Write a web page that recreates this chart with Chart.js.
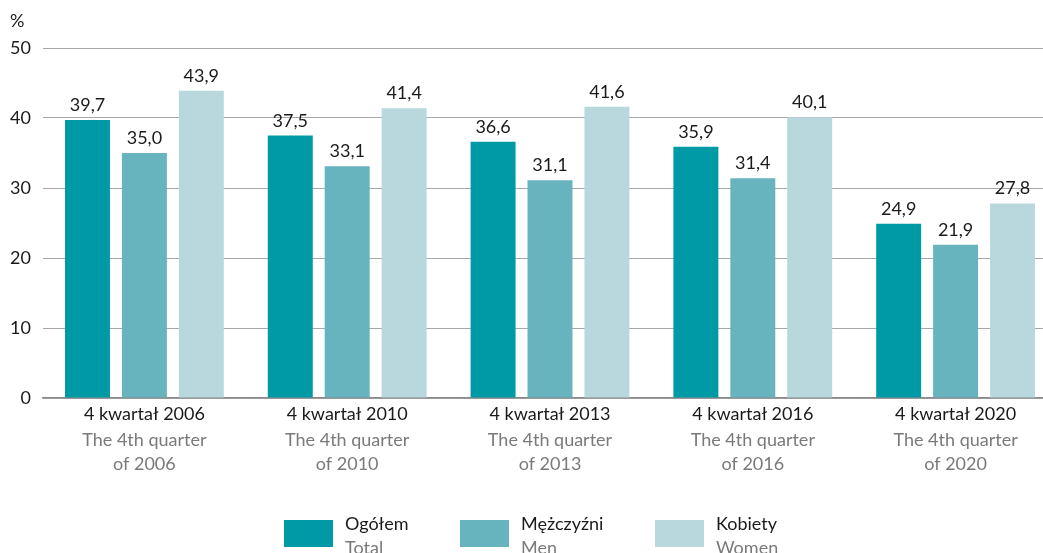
<!DOCTYPE html>
<html>
<head>
<meta charset="utf-8">
<script src="https://cdn.jsdelivr.net/npm/chart.js@4/dist/chart.umd.min.js"></script>
<style>
  html, body { margin: 0; padding: 0; background: #fff; overflow: hidden; }
  /* the reference plot runs past the right edge of the picture */
  #wrap { width: 1057px; height: 553px; position: relative; }
</style>
</head>
<body>
<div id="wrap"><canvas id="chart"></canvas></div>
<script>
'use strict';

// ── Data ──────────────────────────────────────────────────────────────────────

const CATEGORIES_PL = ['4 kwartał 2006', '4 kwartał 2010', '4 kwartał 2013', '4 kwartał 2016', '4 kwartał 2020'];
const CATEGORIES_EN = [
  ['The 4th quarter', 'of 2006'],
  ['The 4th quarter', 'of 2010'],
  ['The 4th quarter', 'of 2013'],
  ['The 4th quarter', 'of 2016'],
  ['The 4th quarter', 'of 2020'],
];

const TOTAL = [39.7, 37.5, 36.6, 35.9, 24.9];
const MEN = [35.0, 33.1, 31.1, 31.4, 21.9];
const WOMEN = [43.9, 41.4, 41.6, 40.1, 27.8];

const SERIES_PL = ['Ogółem', 'Mężczyźni', 'Kobiety'];
const SERIES_EN = ['Total', 'Men', 'Women'];
const COLORS = ['#009aa6', '#67b4bf', '#b9d8de'];

const FONT = 'Lato, "Open Sans", sans-serif';

// ── Plugins ───────────────────────────────────────────────────────────────────

const fmt = v => v.toFixed(1).replace('.', ',');

const decorations = {
  id: 'decorations',
  afterDatasetsDraw(chart) {
    const { ctx } = chart;
    ctx.save();
    ctx.font = '18px ' + FONT;
    ctx.fillStyle = '#1a1a1a';
    ctx.textAlign = 'center';
    ctx.textBaseline = 'alphabetic';
    chart.data.datasets.forEach((ds, i) => {
      chart.getDatasetMeta(i).data.forEach((bar, j) => {
        ctx.fillText(fmt(ds.data[j]), bar.x, bar.y - 9);
      });
    });
    ctx.restore();
  },
  afterDraw(chart) {
    const { ctx, scales: { x } } = chart;
    ctx.save();
    ctx.font = '18px ' + FONT;
    ctx.textAlign = 'center';
    ctx.textBaseline = 'middle';

    // category labels, Polish line dark, English lines grey
    CATEGORIES_PL.forEach((lbl, i) => {
      const cx = x.getPixelForValue(i);
      ctx.fillStyle = '#1a1a1a';
      ctx.fillText(lbl, cx, 414);
      ctx.fillStyle = '#7a7a7a';
      CATEGORIES_EN[i].forEach((line, k) => ctx.fillText(line, cx, 440 + k * 24));
    });

    // unit
    ctx.textAlign = 'left';
    ctx.fillStyle = '#1a1a1a';
    ctx.fillText('%', 10, 21);

    // legend
    const boxX = [284, 460, 655];
    SERIES_PL.forEach((name, i) => {
      ctx.fillStyle = COLORS[i];
      ctx.fillRect(boxX[i], 520, 49, 27);
      ctx.fillStyle = '#1a1a1a';
      ctx.fillText(name, boxX[i] + 61, 524);
      ctx.fillStyle = '#7a7a7a';
      ctx.fillText(SERIES_EN[i], boxX[i] + 61, 548);
    });
    ctx.restore();
  },
};

// ── Chart ─────────────────────────────────────────────────────────────────────

new Chart(document.getElementById('chart'), {
  type: 'bar',
  data: {
    labels: CATEGORIES_PL,
    datasets: [TOTAL, MEN, WOMEN].map((values, i) => ({
      label: SERIES_PL[i],
      data: values,
      backgroundColor: COLORS[i],
      categoryPercentage: 0.842,
      barPercentage: 0.79,
    })),
  },
  options: {
    responsive: true,
    maintainAspectRatio: false,
    animation: false,
    layout: { padding: { top: 48, right: 0, left: 0, bottom: 0 } },
    plugins: { legend: { display: false }, tooltip: { enabled: false } },
    scales: {
      x: {
        ticks: { display: false },
        grid: { display: false },
        border: { color: '#8a8a8a', width: 1.5 },
        afterFit: s => { s.height = 155; },
      },
      y: {
        min: 0,
        max: 50,
        ticks: { stepSize: 10, color: '#1a1a1a', font: { size: 18, family: FONT }, padding: 12 },
        grid: { color: '#a8a8a8', lineWidth: 1, drawTicks: false },
        border: { display: false },
        afterFit: s => { s.width = 43; },
      },
    },
  },
  plugins: [decorations],
});
</script>
</body>
</html>
